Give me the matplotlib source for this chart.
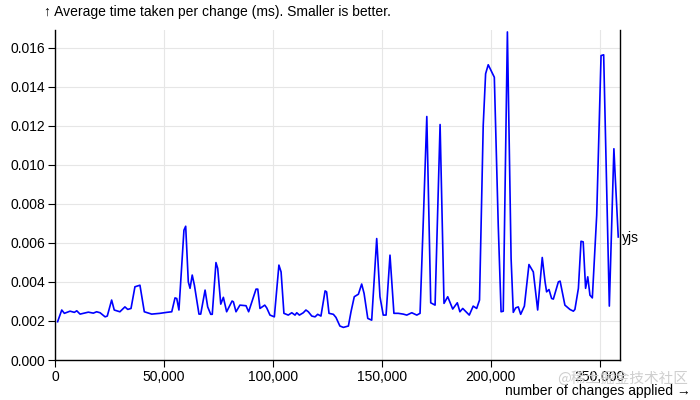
import matplotlib
matplotlib.use("Agg")
import matplotlib.pyplot as plt
from matplotlib.ticker import FuncFormatter, MultipleLocator

plt.rcParams['font.family'] = ['Liberation Sans', 'DejaVu Sans']

changes = [1200, 3100, 4300, 6900, 8900, 10000, 11500, 15300, 17600, 19100, 20700, 23000, 24000,
           26000, 27200, 29800, 32100, 33400, 34900, 36700, 39000, 41000, 44400, 48200, 51300,
           53600, 55100, 55900, 56900, 59200, 60000, 61200, 62000, 63000, 64000, 66100, 66900,
           68900, 70100, 71500, 72200, 73900, 74700, 76100, 77300, 78800, 81300, 81900, 83100,
           84900, 87700, 88900, 92300, 93100, 94100, 96300, 97200, 98700, 100700, 102800, 103800,
           105100, 107100, 108700, 110200, 111000, 112200, 114000, 115200, 116300, 117900, 119400,
           120600, 122100, 124000, 124700, 125800, 127800, 129000, 130800, 132400, 134700, 135900,
           137400, 139300, 140800, 141900, 143600, 145400, 147700, 149200, 150700, 152000, 153800,
           155600, 157600, 159900, 161500, 163800, 166100, 167600, 169100, 170700, 172500, 174500,
           176800, 178600, 180300, 182600, 184700, 185900, 187200, 190200, 192000, 193600, 194900,
           196600, 197700, 198900, 201700, 203500, 204800, 205800, 207700, 209400, 210400, 211500,
           212700, 213800, 215500, 217600, 219600, 221600, 223700, 225000, 225700, 226800, 228000,
           228800, 231100, 231900, 234100, 236400, 238000, 238700, 240300, 241500, 242500, 243600,
           244600, 245600, 246700, 248700, 250700, 251900, 254500, 256600, 257100, 258600]

yjs_ms = [0.00196, 0.00256, 0.00239, 0.00250, 0.00244, 0.00252, 0.00235, 0.00245, 0.00240, 0.00247,
          0.00242, 0.00221, 0.00225, 0.00307, 0.00256, 0.00247, 0.00272, 0.00259, 0.00264, 0.00375,
          0.00383, 0.00247, 0.00235, 0.00239, 0.00244, 0.00247, 0.00318, 0.00315, 0.00256, 0.00665,
          0.00685, 0.00400, 0.00367, 0.00435, 0.00383, 0.00235, 0.00235, 0.00358, 0.00272, 0.00234,
          0.00234, 0.00499, 0.00469, 0.00286, 0.00321, 0.00247, 0.00302, 0.00298, 0.00247, 0.00281,
          0.00278, 0.00247, 0.00363, 0.00363, 0.00264, 0.00281, 0.00267, 0.00230, 0.00221, 0.00486,
          0.00451, 0.00239, 0.00230, 0.00242, 0.00230, 0.00242, 0.00230, 0.00242, 0.00256, 0.00247,
          0.00225, 0.00221, 0.00234, 0.00225, 0.00354, 0.00349, 0.00239, 0.00234, 0.00218, 0.00174,
          0.00167, 0.00174, 0.00247, 0.00324, 0.00337, 0.00389, 0.00341, 0.00213, 0.00204, 0.00622,
          0.00324, 0.00230, 0.00230, 0.00537, 0.00239, 0.00239, 0.00235, 0.00230, 0.00242, 0.00230,
          0.00239, 0.00716, 0.01247, 0.00293, 0.00281, 0.01206, 0.00290, 0.00324, 0.00261, 0.00293,
          0.00247, 0.00264, 0.00230, 0.00276, 0.00264, 0.00307, 0.01201, 0.01466, 0.01512, 0.01448,
          0.00690, 0.00247, 0.00250, 0.01680, 0.00520, 0.00244, 0.00267, 0.00272, 0.00234, 0.00276,
          0.00489, 0.00451, 0.00256, 0.00525, 0.00400, 0.00349, 0.00361, 0.00315, 0.00312, 0.00400,
          0.00404, 0.00281, 0.00259, 0.00250, 0.00259, 0.00367, 0.00608, 0.00605, 0.00367, 0.00426,
          0.00332, 0.00318, 0.00741, 0.01559, 0.01563, 0.00276, 0.01082, 0.00963, 0.00630]

series_label = "yjs"
y_label = "↑ Average time taken per change (ms). Smaller is better."
x_label = "number of changes applied →"
watermark = "@稀土掘金技术社区"

W, H = 700, 400
fs = 10
fig = plt.figure(figsize=(7, 4), dpi=100)
ax = fig.add_axes([55 / W, 40 / H, (620 - 55) / W, (360 - 30) / H])

ax.plot(changes, yjs_ms, color='#0000ff', linewidth=1.2, solid_joinstyle='round', zorder=3, clip_on=False)

ax.set_xlim(0, 259400)
ax.set_ylim(0, 0.0169)
ax.xaxis.set_major_locator(MultipleLocator(50000))
ax.yaxis.set_major_locator(MultipleLocator(0.002))
ax.xaxis.set_major_formatter(FuncFormatter(lambda v, p: f"{int(round(v)):,}"))
ax.yaxis.set_major_formatter(FuncFormatter(lambda v, p: f"{v:.3f}"))

ax.grid(True, color='#e6e6e6', linewidth=0.8, zorder=0)
ax.set_axisbelow(True)
ax.spines['top'].set_visible(False)
for s in ['left', 'bottom', 'right']:
    ax.spines[s].set_color('black')
    ax.spines[s].set_linewidth(1.0)

ax.tick_params(axis='both', direction='out', length=5, width=0.8, colors='black', labelsize=fs, pad=2)

fig.text(622 / W, 1 - 238 / H, series_label, fontsize=fs, va='center', ha='left')
fig.text(44 / W, 1 - 12 / H, y_label, fontsize=fs, va='center', ha='left')
fig.text(691 / W, 1 - 391 / H, x_label, fontsize=fs, va='center', ha='right')
fig.text(688 / W, 1 - 378 / H, watermark, fontsize=10.5, va='center', ha='right',
         color='#cfcfcf', family=['Noto Sans CJK SC', 'DejaVu Sans'], zorder=5)

fig.savefig("out.png", dpi=100)
